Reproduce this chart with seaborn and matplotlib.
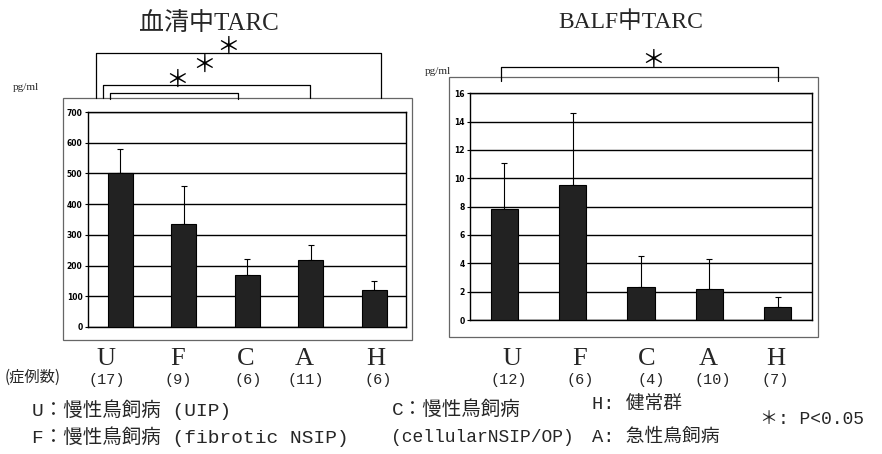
import numpy as np
import pandas as pd
import matplotlib
matplotlib.use("Agg")
import matplotlib.pyplot as plt
import seaborn as sns
from matplotlib.lines import Line2D
from matplotlib.patches import Rectangle

# ---- data -------------------------------------------------------------
groups = ["U", "F", "C", "A", "H"]
serum_n = ["(17)", "(9)", "(6)", "(11)", "(6)"]
balf_n = ["(12)", "(6)", "(4)", "(10)", "(7)"]
serum_mean = [500, 335, 168, 217, 122]
serum_sd = [78, 125, 52, 49, 27]
balf_mean = [7.8, 9.5, 2.3, 2.2, 0.9]
balf_sd = [3.3, 5.1, 2.25, 2.1, 0.7]
serum_ticks = [0, 100, 200, 300, 400, 500, 600, 700]
balf_ticks = [0, 2, 4, 6, 8, 10, 12, 14, 16]

# ---- style ------------------------------------------------------------
sns.set_theme(style="white")
plt.rcParams["font.family"] = ["Liberation Serif", "Noto Sans CJK JP"]
MONO = ["Liberation Mono", "Noto Sans CJK JP"]
CJK = ["Noto Sans CJK JP", "DejaVu Sans"]

W, H = 882, 454
fig = plt.figure(figsize=(W / 100, H / 100), dpi=100)
fig.patch.set_facecolor("white")


def fx(x):
    return x / W


def fy(y):
    return 1 - y / H


def frame(x0, y0, x1, y1):
    fig.add_artist(Rectangle((fx(x0), fy(y1)), (x1 - x0) / W, (y1 - y0) / H,
                             transform=fig.transFigure, fill=False,
                             ec="#666666", lw=0.9))


def bracket(x0, x1, ytop, ybot):
    fig.add_artist(Line2D([fx(x0), fx(x0), fx(x1), fx(x1)],
                          [fy(ybot), fy(ytop), fy(ytop), fy(ybot)],
                          transform=fig.transFigure, color="black", lw=0.9))


def star(x, y, size=17):
    fig.text(fx(x), fy(y), "＊", ha="center", va="center",
             fontsize=size, family=CJK, color="black")


def bar_panel(rect, means, sds, ticks, xlim, width):
    ax = fig.add_axes(rect)
    df = pd.DataFrame({"group": groups, "value": means})
    sns.barplot(data=df, x="group", y="value", ax=ax, color="#222222",
                saturation=1, width=width, edgecolor="black", linewidth=0.8,
                errorbar=None, zorder=3)
    ax.errorbar(np.arange(len(groups)), means,
                yerr=[np.zeros(len(groups)), sds], fmt="none",
                ecolor="black", elinewidth=0.8, capsize=2.2, capthick=0.8,
                zorder=2)
    ax.set_ylim(ticks[0], ticks[-1])
    ax.set_yticks(ticks)
    ax.set_yticklabels([str(t) for t in ticks], fontsize=5.5,
                       family="DejaVu Sans", fontweight="bold")
    ax.set_xlim(*xlim)
    ax.set_xticks([])
    ax.set_xlabel("")
    ax.set_ylabel("")
    ax.yaxis.grid(True, color="black", lw=1.0)
    ax.set_axisbelow(True)
    ax.tick_params(axis="y", length=2, pad=2, width=0.8, colors="black",
                   left=True)
    for s in ax.spines.values():
        s.set_visible(True)
        s.set_color("black")
        s.set_linewidth(1.0)
    ax.set_facecolor("white")
    return ax


# ---- serum panel ------------------------------------------------------
frame(63, 98, 412, 340)
bar_panel([fx(88), fy(327), 318 / W, 215 / H], serum_mean, serum_sd,
          serum_ticks, (-0.51, 4.5), 0.39)
fig.text(fx(209), fy(24), "血清中TARC", ha="center", va="center", fontsize=18)
fig.text(fx(13), fy(87), "pg/ml", ha="left", va="center", fontsize=8)
bracket(96, 381, 53, 98)
bracket(103, 310, 85, 98)
bracket(110, 238, 93, 99)
star(228, 47)
star(204, 65)
star(177, 80)

# ---- BALF panel -------------------------------------------------------
frame(449, 77, 818, 337)
bar_panel([fx(470), fy(320), 342 / W, 226.7 / H], balf_mean, balf_sd,
          balf_ticks, (-0.5, 4.5), 0.40)
fig.text(fx(631), fy(22), "BALF中TARC", ha="center", va="center", fontsize=17)
fig.text(fx(425), fy(72), "pg/ml", ha="left", va="center", fontsize=8)
bracket(501, 778, 67, 81)
star(653, 60)

# ---- group labels and case counts -------------------------------------
serum_label_x = [106, 178, 246, 304, 376]
serum_count_x = [107, 178, 248, 306, 378]
balf_label_x = [512, 580, 647, 708, 776]
balf_count_x = [509, 580, 651, 713, 775]
for g, n, xl, xc in zip(groups, serum_n, serum_label_x, serum_count_x):
    fig.text(fx(xl), fy(359), g, ha="center", va="center", fontsize=19)
    fig.text(fx(xc), fy(380), n, ha="center", va="center", fontsize=11,
             family=MONO)
for g, n, xl, xc in zip(groups, balf_n, balf_label_x, balf_count_x):
    fig.text(fx(xl), fy(359), g, ha="center", va="center", fontsize=19)
    fig.text(fx(xc), fy(380), n, ha="center", va="center", fontsize=11,
             family=MONO)
fig.text(fx(5), fy(377), "(症例数)", ha="left", va="center", fontsize=11,
         family=CJK)

# ---- key --------------------------------------------------------------
key_items = [
    (32, 410, "U：慢性鳥飼病 (UIP)", 14),
    (32, 437, "F：慢性鳥飼病 (fibrotic NSIP)", 14),
    (392, 410, "C：慢性鳥飼病", 14),
    (391, 437, "(cellularNSIP/OP)", 13),
    (592, 405, "H: 健常群", 13.5),
    (592, 437, "A: 急性鳥飼病", 13.5),
    (760, 420, "＊: P<0.05", 13),
]
for x, y, s, size in key_items:
    fig.text(fx(x), fy(y), s, ha="left", va="center", fontsize=size,
             family=MONO)

fig.savefig("out.png", dpi=100, facecolor="white")
